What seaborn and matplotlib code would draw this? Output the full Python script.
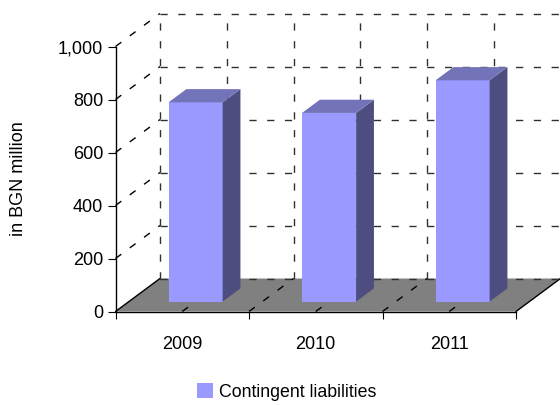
import matplotlib
matplotlib.use("Agg")
import matplotlib.pyplot as plt
import numpy as np
import pandas as pd
import seaborn as sns
from matplotlib.patches import Polygon

years = ["2009", "2010", "2011"]
contingent = [752, 712, 835]
y_ticks = [0, 200, 400, 600, 800, 1000]
y_labels = ["0", "200", "400", "600", "800", "1,000"]
series_name = "Contingent liabilities"
y_title = "in BGN million"

FRONT = "#9999FF"
SIDE = "#4D4D80"
TOP = "#7373B9"
FLOOR = "#808080"

# depth of the fake 3D box, in data units (1/3 category, 33px up)
DX = 44.5 / 133.5
DY = 33 / 265 * 1000
BAR_START = 0.3
BAR_DEPTH = 0.4

sns.set_theme(style="white")
plt.rcParams["font.family"] = ["Liberation Sans", "DejaVu Sans"]
plt.rcParams["font.size"] = 13

W, H = 560, 405
fig = plt.figure(figsize=(W / 100, H / 100), dpi=100, facecolor="white")
ax = fig.add_axes([115.5 / W, (H - 311.5) / H, 400.5 / W, 265 / H])
ax.patch.set_alpha(0)

df = pd.DataFrame({"year": years, "value": contingent})
sns.barplot(data=df, x="year", y="value", color=FRONT, saturation=1, width=0.405,
            label=series_name, ax=ax, zorder=5, linewidth=0)
ax.set_xlim(-0.5, 2.5)
ax.set_ylim(0, 1000)

# floor
ax.add_patch(Polygon([(-0.5, 0), (2.5, 0), (2.5 + DX, DY), (-0.5 + DX, DY)],
                     facecolor=FLOOR, edgecolor="none", clip_on=False, zorder=1))
for x0 in [-0.5, 2.5]:
    ax.plot([x0, x0 + DX], [0, DY], color="black", lw=1, clip_on=False, zorder=2)

# dashed grid on back wall, side wall and floor
dash = dict(lw=1.0, linestyle=(0, (5.2, 7.6)), clip_on=False, zorder=2)
x_grid = np.arange(-0.5, 2.51, 0.5)
for y in y_ticks:
    ax.plot([-0.5 + DX, 2.5 + DX], [y + DY, y + DY], color="#303030", **dash)
    if y > 0:
        ax.plot([-0.5, -0.5 + DX], [y, y + DY], color="black", **dash)
for x in x_grid:
    ax.plot([x + DX, x + DX], [DY, 1000 + DY], color="#303030", **dash)
    if -0.5 < x < 2.5:
        ax.plot([x, x + DX], [0, DY], color="black", **dash)

# move the seaborn bars back into the box and add side + top faces
dx0, dy0 = BAR_START * DX, BAR_START * DY
dx1, dy1 = BAR_DEPTH * DX, BAR_DEPTH * DY
for bar in ax.patches:
    if not isinstance(bar, Polygon) and bar.get_height() > 0:
        x, w, h = bar.get_x(), bar.get_width(), bar.get_height()
        bar.set_xy((x + dx0, dy0))
        bar.set_clip_on(False)
        xl, xr = x + dx0, x + dx0 + w
        yb, yt = dy0, dy0 + h
        ax.add_patch(Polygon([(xr, yb), (xr + dx1, yb + dy1), (xr + dx1, yt + dy1), (xr, yt)],
                             facecolor=SIDE, edgecolor="none", clip_on=False, zorder=5))
        ax.add_patch(Polygon([(xl, yt), (xr, yt), (xr + dx1, yt + dy1), (xl + dx1, yt + dy1)],
                             facecolor=TOP, edgecolor="none", clip_on=False, zorder=5))

for s in ["top", "right"]:
    ax.spines[s].set_visible(False)
for s in ["left", "bottom"]:
    ax.spines[s].set_color("black")
    ax.spines[s].set_linewidth(1)
    ax.spines[s].set_zorder(3)

ax.set_yticks(y_ticks, y_labels)
ax.set_xticks(range(len(years)), years)
ax.set_xticks(np.arange(-0.5, 2.51, 1), minor=True)
ax.tick_params(axis="y", left=True, length=5.8, width=0.8, color="black", pad=3,
               labelsize=13, labelcolor="black")
ax.tick_params(axis="x", which="major", bottom=False, pad=11.5, labelsize=13, labelcolor="black")
ax.tick_params(axis="x", which="minor", bottom=True, length=5, width=0.8, color="black")
ax.set_xlabel("")
ax.set_ylabel("")
fig.text(19 / W, (H - 179) / H, y_title, rotation=90, ha="center", va="center",
         fontsize=13, color="black")

handles, labels = ax.get_legend_handles_labels()
ax.legend(handles, labels, loc="center left", bbox_to_anchor=(197 / W, (H - 392) / H),
          bbox_transform=fig.transFigure, frameon=False, fontsize=12.8, borderpad=0,
          borderaxespad=0, handlelength=0.9, handleheight=0.9, handletextpad=0.33,
          labelcolor="black")

fig.savefig("out.png", dpi=100)
